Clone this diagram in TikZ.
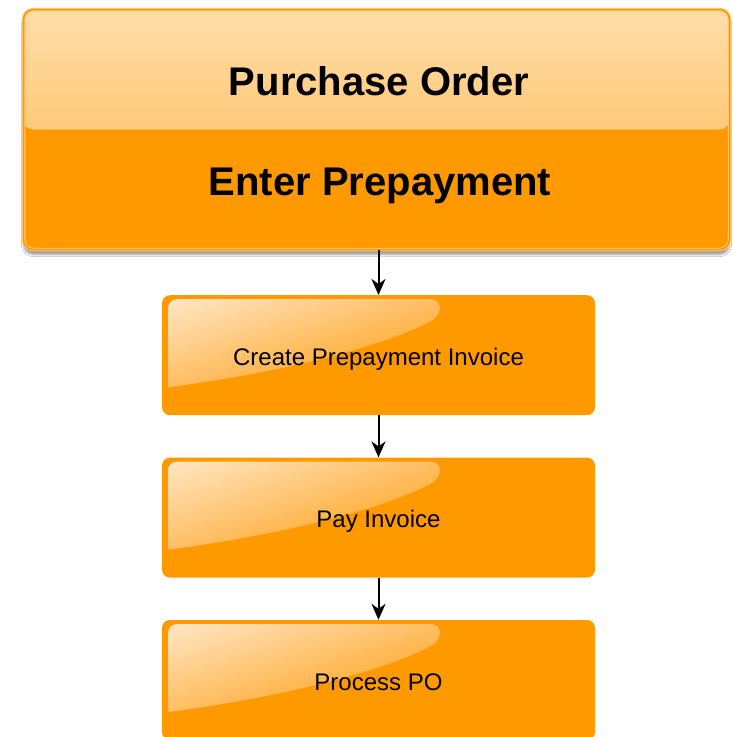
\documentclass[tikz,border=0pt]{standalone}
\usepackage{fontspec}
\setmainfont{Liberation Sans}
\usetikzlibrary{positioning,arrows.meta,calc,shadows.blur,shadings}
\definecolor{POOrange}{RGB}{255,153,0}
\definecolor{POLight}{RGB}{255,222,168}
\definecolor{POMid}{RGB}{255,180,76}
\definecolor{POEdge}{RGB}{255,200,122}
\definecolor{GlossLight}{RGB}{255,230,196}
\definecolor{GlossMid}{RGB}{255,190,100}

\begin{document}
\begin{tikzpicture}[x=1pt,y=-1pt,
node distance=42pt,
headbox/.style={rectangle,rounded corners=10pt,draw=POEdge,line width=1pt,
double=POOrange,double distance=1.5pt,fill=POOrange,
minimum width=706pt,minimum height=240pt,
blur shadow={shadow xshift=0pt,shadow yshift=-5pt,shadow blur steps=8,shadow opacity=40},
path picture={\shade[top color=POLight,bottom color=POMid]
(path picture bounding box.north west) rectangle (path picture bounding box.east);}},
title/.style={anchor=base,font=\bfseries\fontsize{40}{44}\selectfont},
stepbox/.style={rectangle,rounded corners=8pt,fill=POOrange,
minimum width=433pt,minimum height=120pt,text height=20pt,text depth=0pt,
font=\fontsize{24}{28}\selectfont,
path picture={
% glossy highlight in the upper left of each step
\coordinate (nw) at (path picture bounding box.north west);
\shade[upper left=GlossLight,upper right=GlossMid,lower left=GlossMid,lower right=POOrange]
($(nw)+(6,60)$) [rounded corners=9pt] -- ($(nw)+(6,4)$) -- ($(nw)+(278,4)$) -- ($(nw)+(278,21)$)
[sharp corners] .. controls ($(nw)+(215,55)$) and ($(nw)+(100,80)$) .. ($(nw)+(6,92)$) -- cycle;}},
arrow/.style={-{Stealth[length=16pt,width=14pt,inset=5pt]},line width=2pt}
]
\useasboundingbox (0,0) rectangle (733,737);
\fill[white] (0,0) rectangle (733,737);

\node[headbox] (po) at (376.5,129.5) {};
\node[title] (potitle) at (379,95) {Purchase Order};
\node[title] (prepay) at (380,195) {Enter Prepayment};

\node[stepbox,below=45pt of po,xshift=2pt] (invoice) {Create Prepayment Invoice};
\node[stepbox,below=of invoice] (pay) {Pay Invoice};
\node[stepbox,below=of pay] (process) {Process PO};

\draw[arrow] (invoice.north |- po.south) -- (invoice);
\draw[arrow] (invoice) -- (pay);
\draw[arrow] (pay) -- (process);
\end{tikzpicture}
\end{document}
